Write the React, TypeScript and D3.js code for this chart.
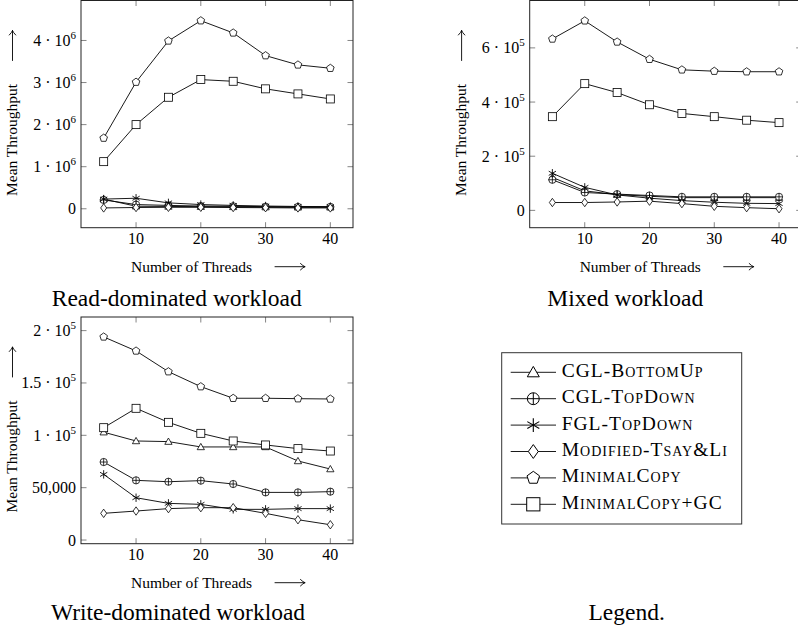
import React from "react";
import * as d3 from "d3";

// ---------- data ----------
const threads = [5, 10, 15, 20, 25, 30, 35, 40];
const seriesNames = [
  "CGL-BottomUp",
  "CGL-TopDown",
  "FGL-TopDown",
  "Modified-Tsay&Li",
  "MinimalCopy",
  "MinimalCopy+GC",
];
const markerKinds = ["triangle", "oplus", "asterisk", "diamond", "pentagon", "square"];

// Read-dominated workload
const readCglBottomUp = [2.3e5, 0.6e5, 0.55e5, 0.5e5, 0.45e5, 0.4e5, 0.35e5, 0.35e5];
const readCglTopDown = [2.1e5, 1.0e5, 0.8e5, 0.65e5, 0.6e5, 0.5e5, 0.45e5, 0.45e5];
const readFglTopDown = [2.3e5, 2.5e5, 1.4e5, 1.0e5, 0.8e5, 0.65e5, 0.55e5, 0.5e5];
const readTsayLi = [0.2e5, 0.3e5, 0.35e5, 0.35e5, 0.3e5, 0.25e5, 0.2e5, 0.2e5];
const readMinimalCopy = [1.68e6, 3.01e6, 3.99e6, 4.47e6, 4.18e6, 3.64e6, 3.42e6, 3.34e6];
const readMinimalCopyGC = [1.12e6, 2.0e6, 2.65e6, 3.07e6, 3.03e6, 2.85e6, 2.73e6, 2.61e6];

// Mixed workload
const mixedCglBottomUp = [1.22e5, 0.72e5, 0.58e5, 0.52e5, 0.47e5, 0.47e5, 0.47e5, 0.47e5];
const mixedCglTopDown = [1.13e5, 0.66e5, 0.6e5, 0.55e5, 0.5e5, 0.5e5, 0.5e5, 0.5e5];
const mixedFglTopDown = [1.37e5, 0.85e5, 0.57e5, 0.45e5, 0.36e5, 0.3e5, 0.26e5, 0.25e5];
const mixedTsayLi = [0.29e5, 0.29e5, 0.31e5, 0.34e5, 0.25e5, 0.15e5, 0.1e5, 0.06e5];
const mixedMinimalCopy = [6.33e5, 7.0e5, 6.22e5, 5.58e5, 5.19e5, 5.14e5, 5.12e5, 5.12e5];
const mixedMinimalCopyGC = [3.46e5, 4.68e5, 4.35e5, 3.9e5, 3.58e5, 3.46e5, 3.33e5, 3.24e5];

// Write-dominated workload
const writeCglBottomUp = [1.03e5, 0.946e5, 0.94e5, 0.889e5, 0.889e5, 0.889e5, 0.755e5, 0.678e5];
const writeCglTopDown = [0.745e5, 0.57e5, 0.557e5, 0.567e5, 0.535e5, 0.455e5, 0.455e5, 0.462e5];
const writeFglTopDown = [0.627e5, 0.404e5, 0.35e5, 0.341e5, 0.293e5, 0.293e5, 0.3e5, 0.3e5];
const writeTsayLi = [0.255e5, 0.277e5, 0.3e5, 0.309e5, 0.309e5, 0.255e5, 0.194e5, 0.146e5];
const writeMinimalCopy = [1.94e5, 1.806e5, 1.608e5, 1.465e5, 1.354e5, 1.354e5, 1.35e5, 1.347e5];
const writeMinimalCopyGC = [1.073e5, 1.258e5, 1.124e5, 1.019e5, 0.946e5, 0.908e5, 0.873e5, 0.85e5];

const xTicks = [10, 20, 30, 40];
const readYTicks = [0, 1e6, 2e6, 3e6, 4e6];
const readYTickLabels = ["0", "1·10^6", "2·10^6", "3·10^6", "4·10^6"];
const mixedYTicks = [0, 2e5, 4e5, 6e5];
const mixedYTickLabels = ["0", "2·10^5", "4·10^5", "6·10^5"];
const writeYTicks = [0, 5e4, 1e5, 1.5e5, 2e5];
const writeYTickLabels = ["0", "50,000", "1·10^5", "1.5·10^5", "2·10^5"];

const captions = ["Read-dominated workload", "Mixed workload", "Write-dominated workload", "Legend."];
const xAxisLabel = "Number of Threads";
const yAxisLabel = "Mean Throughput";

// ---------- layout ----------
const W = 798;
const H = 633;
const SERIF = "Liberation Serif, DejaVu Serif, serif";

type Panel = {
  left: number; right: number; top: number; bottom: number;
  xDomain: [number, number]; yDomain: [number, number];
  yTicks: number[]; yTickLabels: string[];
  series: number[][];
  yLabelX: number; caption: string; captionX: number; captionY: number;
};

const panels: Panel[] = [
  {
    left: 81, right: 353, top: 0.5, bottom: 227.7,
    xDomain: [1.5, 43.5], yDomain: [-0.45e6, 4.95e6],
    yTicks: readYTicks, yTickLabels: readYTickLabels,
    series: [readCglBottomUp, readCglTopDown, readFglTopDown, readTsayLi, readMinimalCopy, readMinimalCopyGC],
    yLabelX: 16.5, caption: captions[0], captionX: 176.7, captionY: 306,
  },
  {
    left: 529.7, right: 801.7, top: 0.5, bottom: 227.7,
    xDomain: [1.5, 43.5], yDomain: [-0.64e5, 7.75e5],
    yTicks: mixedYTicks, yTickLabels: mixedYTickLabels,
    series: [mixedCglBottomUp, mixedCglTopDown, mixedFglTopDown, mixedTsayLi, mixedMinimalCopy, mixedMinimalCopyGC],
    yLabelX: 465.6, caption: captions[1], captionX: 625.3, captionY: 306,
  },
  {
    left: 81, right: 353, top: 317, bottom: 543.7,
    xDomain: [1.5, 43.5], yDomain: [-0.35e4, 2.13e5],
    yTicks: writeYTicks, yTickLabels: writeYTickLabels,
    series: [writeCglBottomUp, writeCglTopDown, writeFglTopDown, writeTsayLi, writeMinimalCopy, writeMinimalCopyGC],
    yLabelX: 16.5, caption: captions[2], captionX: 178, captionY: 620,
  },
];

function Marker({ kind, x, y, s, sw }: { kind: string; x: number; y: number; s: number; sw: number }) {
  const common = { fill: "#fff", stroke: "#000", strokeWidth: sw };
  if (kind === "square") {
    return <rect x={x - s} y={y - s} width={2 * s} height={2 * s} {...common} />;
  }
  if (kind === "oplus") {
    const r = s * 0.9;
    return (
      <g>
        <circle cx={x} cy={y} r={r} {...common} />
        <path d={`M${x - r},${y}H${x + r}M${x},${y - r}V${y + r}`} stroke="#000" strokeWidth={sw} />
      </g>
    );
  }
  if (kind === "triangle") {
    const r = s * 1.05;
    const pts = [90, 210, 330].map((a) => {
      const t = (a * Math.PI) / 180;
      return [x + r * Math.cos(t), y - r * Math.sin(t) + r * 0.15];
    });
    return <polygon points={pts.map((p) => p.join(",")).join(" ")} {...common} />;
  }
  if (kind === "pentagon") {
    const r = s;
    const pts = [90, 162, 234, 306, 18].map((a) => {
      const t = (a * Math.PI) / 180;
      return [x + r * Math.cos(t), y - r * Math.sin(t)];
    });
    return <polygon points={pts.map((p) => p.join(",")).join(" ")} {...common} />;
  }
  if (kind === "diamond") {
    const hw = s * 0.75;
    const hh = s * 1.05;
    return <polygon points={`${x},${y - hh} ${x + hw},${y} ${x},${y + hh} ${x - hw},${y}`} {...common} />;
  }
  // asterisk
  const r = s * 1.05;
  const d = [90, 30, 150]
    .map((a) => {
      const t = (a * Math.PI) / 180;
      const dx = r * Math.cos(t);
      const dy = r * Math.sin(t);
      return `M${x - dx},${y + dy}L${x + dx},${y - dy}`;
    })
    .join("");
  return <path d={d} stroke="#000" strokeWidth={sw * 1.1} fill="none" />;
}

function TickLabel({ label, x, y }: { label: string; x: number; y: number }) {
  const parts = label.split("^");
  const st = { fontFamily: SERIF, fontSize: 16 };
  if (parts.length === 1) {
    return (
      <text x={x} y={y} textAnchor="end" style={st} fill="#000">
        {label}
      </text>
    );
  }
  const [mant, base] = parts[0].split("·");
  return (
    <text x={x} y={y} textAnchor="end" style={st} fill="#000">
      <tspan>{`${mant} · ${base}`}</tspan>
      <tspan dy={-7} style={{ fontSize: 11 }}>{parts[1]}</tspan>
    </text>
  );
}

// long thin arrow (the \longrightarrow after the axis labels), drawn along +x then rotated
function Arrow({ x, y, rotate }: { x: number; y: number; rotate: boolean }) {
  const L = 15;
  const d = `M${-L},0H${L}M${L - 4.5},-3.2Q${L - 1.8},-0.6 ${L},0Q${L - 1.8},0.6 ${L - 4.5},3.2`;
  return (
    <path
      transform={`translate(${x},${y})${rotate ? " rotate(-90)" : ""}`}
      d={d}
      fill="none"
      stroke="#000"
      strokeWidth={0.9}
      strokeLinecap="round"
    />
  );
}

function PanelView({ p }: { p: Panel }) {
  const x = d3.scaleLinear().domain(p.xDomain).range([p.left, p.right]);
  const y = d3.scaleLinear().domain(p.yDomain).range([p.bottom, p.top]);
  const line = d3
    .line<number>()
    .x((_, i) => x(threads[i]))
    .y((d) => y(d));
  const tl = 5.5;
  const cx = (p.left + p.right) / 2;
  return (
    <g>
      {xTicks.map((t) => (
        <g key={"xt" + t}>
          <line x1={x(t)} x2={x(t)} y1={p.bottom} y2={p.bottom - tl} stroke="#666" strokeWidth={0.8} />
          <line x1={x(t)} x2={x(t)} y1={p.top} y2={p.top + tl} stroke="#666" strokeWidth={0.8} />
          <text x={x(t)} y={p.bottom + 16.5} textAnchor="middle" style={{ fontFamily: SERIF, fontSize: 16 }} fill="#000">
            {t}
          </text>
        </g>
      ))}
      {p.yTicks.map((t, i) => (
        <g key={"yt" + t}>
          <line x1={p.left} x2={p.left + tl} y1={y(t)} y2={y(t)} stroke="#666" strokeWidth={0.8} />
          <line x1={p.right} x2={p.right - tl} y1={y(t)} y2={y(t)} stroke="#666" strokeWidth={0.8} />
          <TickLabel label={p.yTickLabels[i]} x={p.left - 5} y={y(t) + 5.5} />
        </g>
      ))}
      {p.series.map((vals, si) => (
        <g key={"s" + si}>
          <path d={line(vals) || ""} fill="none" stroke="#000" strokeWidth={0.9} />
          {vals.map((v, i) => (
            <Marker key={i} kind={markerKinds[si]} x={x(threads[i])} y={y(v)} s={4} sw={0.8} />
          ))}
        </g>
      ))}
      <rect x={p.left} y={p.top} width={p.right - p.left} height={p.bottom - p.top} fill="none" stroke="#222" strokeWidth={1} />
      <text x={cx - 25.5} y={p.bottom + 43.8} textAnchor="middle" style={{ fontFamily: SERIF, fontSize: 15.5 }} fill="#000">
        {xAxisLabel}
      </text>
      <Arrow x={cx + 73} y={p.bottom + 39} rotate={false} />
      <text
        transform={`translate(${p.yLabelX},${p.top + 139.5}) rotate(-90)`}
        textAnchor="middle"
        style={{ fontFamily: SERIF, fontSize: 15.5 }}
        fill="#000"
      >
        {yAxisLabel}
      </text>
      <Arrow x={p.yLabelX - 4} y={p.top + 45} rotate={true} />
      <text x={p.captionX} y={p.captionY} textAnchor="middle" style={{ fontFamily: SERIF, fontSize: 23.5 }} fill="#000">
        {p.caption}
      </text>
    </g>
  );
}

function Legend() {
  const left = 501.7;
  const top = 352.7;
  const right = 741.7;
  const bottom = 524;
  const rowY = d3.scaleLinear().domain([0, 5]).range([372.3, 504.3]);
  return (
    <g>
      <rect x={left} y={top} width={right - left} height={bottom - top} fill="#fff" stroke="#333" strokeWidth={1} />
      {seriesNames.map((name, i) => (
        <g key={name}>
          <line x1={510.7} x2={556} y1={rowY(i)} y2={rowY(i)} stroke="#000" strokeWidth={0.9} />
          <Marker kind={markerKinds[i]} x={533.3} y={rowY(i)} s={6.6} sw={1} />
          <text
            x={561.7}
            y={rowY(i) + 4.5}
            style={{ fontFamily: SERIF, fontSize: 19.5, fontVariant: "small-caps", letterSpacing: 1 }}
            fill="#000"
          >
            {name}
          </text>
        </g>
      ))}
      <text x={626.7} y={620} textAnchor="middle" style={{ fontFamily: SERIF, fontSize: 23.5 }} fill="#000">
        {captions[3]}
      </text>
    </g>
  );
}

export default function App() {
  React.useEffect(() => {
    document.body.style.margin = "0";
  }, []);
  return (
    <svg
      width={W}
      height={H}
      viewBox={`0 0 ${W} ${H}`}
      style={{ position: "absolute", left: 0, top: 0, background: "#fff" }}
    >
      <rect x={0} y={0} width={W} height={H} fill="#fff" />
      {panels.map((p, i) => (
        <PanelView key={i} p={p} />
      ))}
      <Legend />
    </svg>
  );
}
